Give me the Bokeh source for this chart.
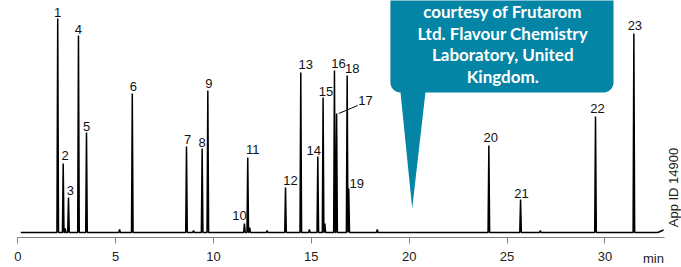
import numpy as np
from bokeh.plotting import figure
from bokeh.models import ColumnDataSource, Range1d, FixedTicker, LinearAxis
from bokeh.core.properties import value
from bokeh.embed import file_html
from bokeh.resources import INLINE

# ---- data (retention time in min, relative response) ----
peak_labels = ["1", "2", "3", "4", "5", "6", "7", "8", "9", "10", "11", "12",
               "13", "14", "15", "16", "17", "18", "19", "20", "21", "22", "23"]
peak_times = [2.04, 2.32, 2.59, 3.10, 3.51, 5.85, 8.62, 9.42, 9.71, 11.58, 11.75, 13.68,
              14.46, 15.33, 15.60, 16.18, 16.29, 16.83, 16.91, 24.07, 25.69, 29.52, 31.48]
peak_heights = [214, 69, 35, 197, 100, 139, 86, 84, 142, 9, 75, 45,
                160, 76, 135, 162, 119, 157, 44, 87, 33, 116, 199]
minor_times = [2.42, 5.20, 8.98, 11.85, 12.74, 14.90, 15.69, 18.37, 26.70]
minor_heights = [4, 3, 2, 5, 2, 3, 9, 3, 2]
run_start, run_end, end_drift = 0.15, 33.0, 2.5
tick_values = [0, 5, 10, 15, 20, 25, 30]
axis_end = 33.05
callout_lines = ["courtesy of Frutarom", "Ltd. Flavour Chemistry", "Laboratory, United", "Kingdom."]

# label placement offsets (screen px) relative to each peak apex
label_dx = [0, 2, 2, 0, 0, 1, 1, 0, 1, -5, 5, 5, 5, -4, 3, 4, 29, 5, 8, 2, 1, 2, 1]
label_dy = [-6, -8, -7, -6, -6, -7, -7, -6, -7, -8, -8, -7, -8, -6, -6, -7, -13, -7, -5, -8, -6, -8, -8]

# ---- build the trace from the peak table ----
half_w = 0.04
all_peaks = sorted(zip(peak_times + minor_times, peak_heights + minor_heights))
tx, ty = [run_start], [0]
for t, h in all_peaks:
    tx += [t - half_w, t, t + half_w]
    ty += [0, h, 0]
tx += [run_end - 0.3, run_end]
ty += [0, end_drift]

p = figure(width=681, height=267, output_backend="svg", toolbar_location=None,
           x_range=Range1d(-0.884, 33.914), y_range=Range1d(-35, 232),
           x_axis_location=None, y_axis_location=None,
           min_border_left=0, min_border_right=0, min_border_top=0, min_border_bottom=0)
p.title.visible = False
p.xgrid.visible = False
p.ygrid.visible = False
p.outline_line_color = None

ax = LinearAxis(fixed_location=-4.5, bounds=(0, axis_end))
ax.ticker = FixedTicker(ticks=tick_values)
ax.minor_tick_line_color = None
ax.major_tick_in = 0
ax.major_tick_out = 6
ax.axis_line_color = "#808080"
ax.major_tick_line_color = "#808080"
ax.major_label_text_font = "Liberation Sans"
ax.major_label_text_font_size = "13px"
ax.major_label_text_color = "#222222"
ax.major_label_standoff = 9
p.add_layout(ax, "below")

# callout box with pointer
bl, br, bb, btop = 19.04, 30.44, 140, 260
pl, pr, ptx, pty = 19.556, 20.83, 20.153, 24
r = 10
rx, ry = r / 19.57, r
a1 = np.linspace(np.pi, 1.5 * np.pi, 8)
a2 = np.linspace(1.5 * np.pi, 2 * np.pi, 8)
xs = [bl] + list(bl + rx + rx * np.cos(a1)) + [pl, ptx, pr] + list(br - rx + rx * np.cos(a2)) + [br]
ys = [btop] + list(bb + ry + ry * np.sin(a1)) + [bb, pty, bb] + list(bb + ry + ry * np.sin(a2)) + [btop]
p.patch(xs, ys, fill_color="#0485A5", line_color=None)

cx = (bl + br) / 2 + 0.04
line_y = [221, 199.5, 178, 156.5]
p.text(x=[cx] * 4, y=line_y, text=callout_lines, text_align="center", text_baseline="alphabetic",
       text_font=value("Lato"), text_font_style="bold", text_font_size="17px", text_color="white")

# chromatogram trace
p.line(tx, ty, line_color="black", line_width=1.5)

# leader line for peak 17
i17 = peak_labels.index("17")
p.segment(x0=[peak_times[i17] + 0.11], y0=[peak_heights[i17]],
          x1=[peak_times[i17] + 1.08], y1=[peak_heights[i17] + 8],
          line_color="black", line_width=1)

src = ColumnDataSource(dict(x=peak_times, y=peak_heights, t=peak_labels, dx=label_dx, dy=label_dy))
p.text(x="x", y="y", text="t", x_offset="dx", y_offset="dy", source=src,
       text_align="center", text_baseline="middle", text_font=value("Liberation Sans"),
       text_font_size="13px", text_color="#111111")

p.text(x=[32.48], y=[-26], text=["min"], text_align="center", text_baseline="middle",
       text_font=value("Liberation Sans"), text_font_size="13px", text_color="#222222")
p.text(x=[33.49], y=[45], text=["App ID 14900"], angle=np.pi / 2, text_align="center",
       text_baseline="middle", text_font=value("Liberation Sans"), text_font_size="13px",
       text_color="#222222")

open("out.html", "w").write(file_html(p, INLINE))
